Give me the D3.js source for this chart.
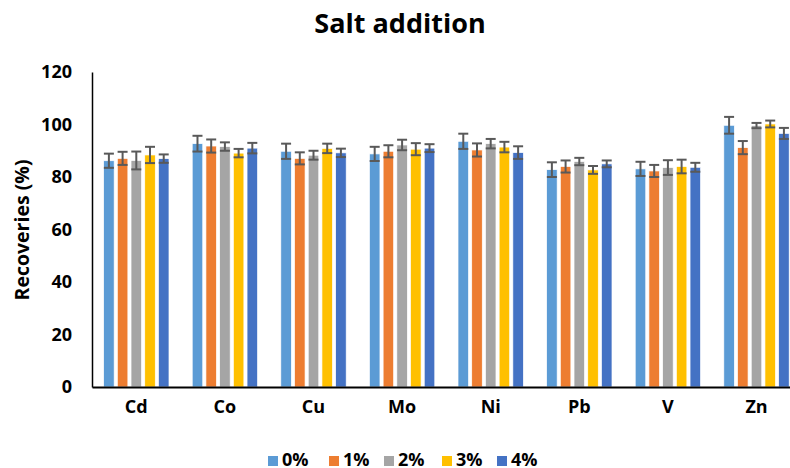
<!DOCTYPE html>
<html>
<head>
<meta charset="utf-8">
<script src="https://cdn.jsdelivr.net/npm/d3@7/dist/d3.min.js"></script>
<style>
  html, body { margin: 0; padding: 0; background: #fff; }
  svg { display: block; }
  text { font-family: "Open Sans", "Noto Sans", sans-serif; font-weight: 700; fill: #000; }
</style>
</head>
<body>
<svg id="chart" width="790" height="468"></svg>
<script>
const categories = ["Cd", "Co", "Cu", "Mo", "Ni", "Pb", "V", "Zn"];
const seriesNames = ["0%", "1%", "2%", "3%", "4%"];
const seriesColors = ["#5B9BD5", "#ED7D31", "#A5A5A5", "#FFC000", "#4472C4"];
// values per series, in category order
const values0 = [86.2, 92.7, 89.8, 88.8, 93.6, 82.8, 83.1, 99.7];
const values1 = [87.1, 91.8, 87.1, 89.8, 90.3, 84.0, 82.3, 91.2];
const values2 = [86.3, 91.6, 88.3, 92.2, 92.7, 85.9, 83.6, 99.6];
const values3 = [88.4, 89.1, 90.9, 90.6, 91.4, 82.7, 84.0, 100.2];
const values4 = [87.0, 91.0, 89.2, 91.0, 89.3, 85.0, 83.7, 96.6];
// error bar half-widths per series
const err0 = [2.7, 3.0, 2.9, 2.7, 2.9, 2.8, 2.7, 3.2];
const err1 = [2.5, 2.5, 2.3, 2.3, 2.5, 2.3, 2.3, 2.5];
const err2 = [3.4, 1.6, 1.7, 2.0, 1.8, 1.4, 2.8, 1.0];
const err3 = [3.1, 1.6, 1.8, 2.3, 2.0, 1.5, 2.6, 1.3];
const err4 = [1.6, 2.0, 1.6, 1.5, 2.4, 1.3, 1.7, 2.1];
const yTicks = [0, 20, 40, 60, 80, 100, 120];
const titleText = "Salt addition";
const yTitle = "Recoveries (%)";

const allValues = [values0, values1, values2, values3, values4];
const allErr = [err0, err1, err2, err3, err4];

const svg = d3.select("#chart");

const x0 = d3.scaleBand().domain(categories).range([92, 800.8]).paddingInner(0.262).paddingOuter(0.131);
const x1 = d3.scaleBand().domain(seriesNames).range([0, x0.bandwidth()]).paddingInner(0.23);
const y = d3.scaleLinear().domain([0, 120]).range([387, 72]);

// title
svg.append("text").attr("x", 400).attr("y", 33).attr("text-anchor", "middle")
  .style("font-size", "27px").text(titleText);

// y tick labels
const yAxis = d3.axisLeft(y).tickValues(yTicks).tickSize(0).tickPadding(20);
const gy = svg.append("g").attr("transform", "translate(92,0)").call(yAxis);
gy.select(".domain").attr("stroke", "#000").attr("stroke-width", 1.5);
gy.selectAll("text").style("font-size", "18px").style("font-family", '"Open Sans", sans-serif').style("font-weight", 700).attr("fill", "#000");

// y title
svg.append("text").attr("transform", "translate(29,230) rotate(-90)").attr("text-anchor", "middle")
  .style("font-size", "19.5px").text(yTitle);

// bars
const data = [];
categories.forEach((c, ci) => {
  seriesNames.forEach((s, si) => {
    data.push({ c, s, si, v: allValues[si][ci], e: allErr[si][ci] });
  });
});

const groups = svg.append("g");
groups.selectAll("rect").data(data).join("rect")
  .attr("x", d => x0(d.c) + x1(d.s))
  .attr("y", d => y(d.v))
  .attr("width", x1.bandwidth())
  .attr("height", d => y(0) - y(d.v))
  .attr("fill", d => seriesColors[d.si])
  .attr("stroke", "#fff").attr("stroke-width", 0.7);

// error bars
const eg = svg.append("g").attr("stroke", "#595959").attr("stroke-width", 2).attr("fill", "none");
const capW = 10;
data.forEach(d => {
  const cx = x0(d.c) + x1(d.s) + x1.bandwidth() / 2;
  const yt = y(d.v + d.e), yb = y(d.v - d.e);
  eg.append("line").attr("x1", cx).attr("x2", cx).attr("y1", yt).attr("y2", yb);
  eg.append("line").attr("x1", cx - capW / 2).attr("x2", cx + capW / 2).attr("y1", yt).attr("y2", yt);
  eg.append("line").attr("x1", cx - capW / 2).attr("x2", cx + capW / 2).attr("y1", yb).attr("y2", yb);
});

// x axis
const xAxis = d3.axisBottom(x0).tickSize(0).tickPadding(13);
const gx = svg.append("g").attr("transform", "translate(0,387)").call(xAxis);
gx.select(".domain").attr("stroke", "#000").attr("stroke-width", 2);
gx.selectAll("text").style("font-size", "18px").style("font-family", '"Open Sans", sans-serif').style("font-weight", 700).attr("fill", "#000");

// legend
const legendX = [268, 329, 384, 442, 497];
const lg = svg.append("g");
seriesNames.forEach((s, i) => {
  lg.append("rect").attr("x", legendX[i]).attr("y", 456).attr("width", 10).attr("height", 10).attr("fill", seriesColors[i]);
  lg.append("text").attr("x", legendX[i] + 14).attr("y", 466).style("font-size", "18px").text(s);
});
</script>
</body>
</html>
